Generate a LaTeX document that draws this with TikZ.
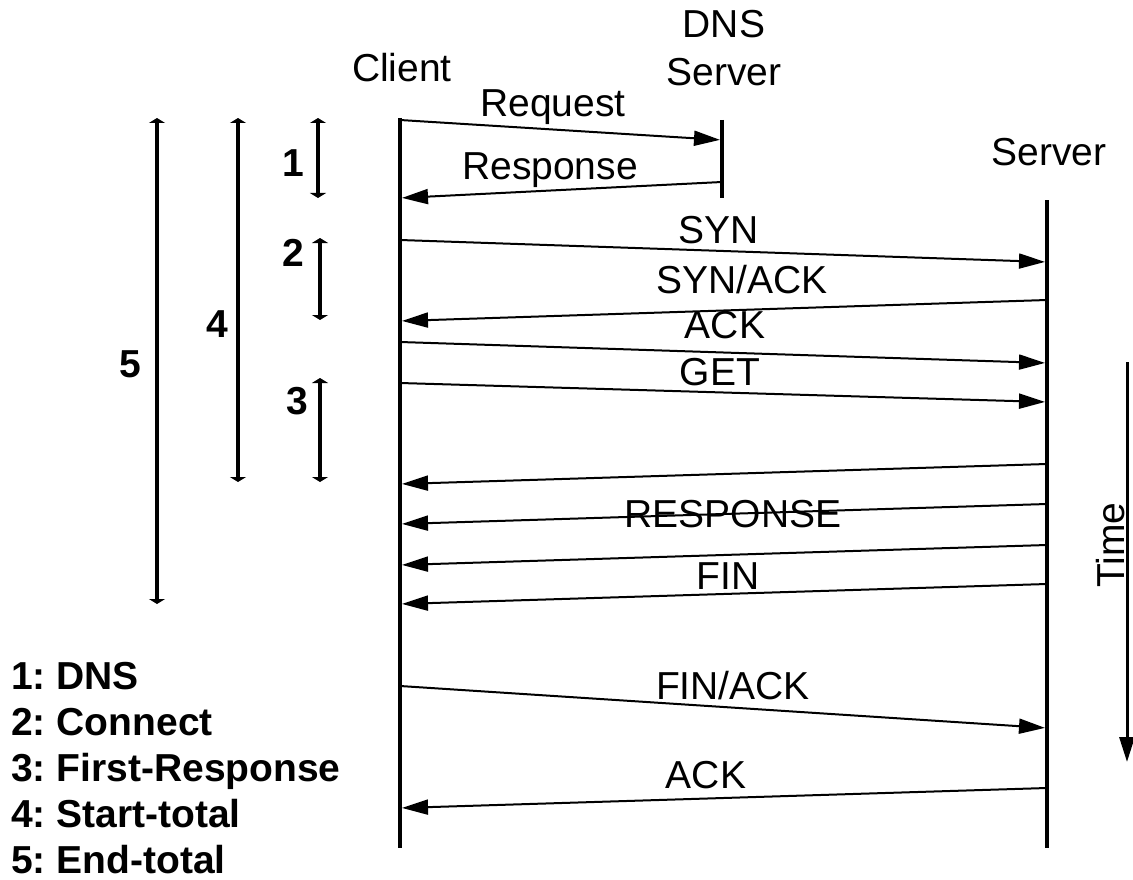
\documentclass[tikz,border=0pt]{standalone}
\usepackage{fontspec}
\setmainfont{Liberation Sans}
\usetikzlibrary{arrows.meta, positioning}

\begin{document}
\begin{tikzpicture}[x=1pt, y=-1pt,
      txt/.style={font=\fontsize{39}{48}\selectfont, inner sep=0pt, anchor=base},
      num/.style={txt, font=\fontsize{39}{48}\selectfont\bfseries},
      life/.style={line width=4pt},
      msg/.style={line width=2pt, -{Triangle[length=26pt, width=15pt]}, shorten >=2pt},
      span/.style={line width=3.5pt, {Triangle[length=5pt, width=16pt]}-{Triangle[length=5pt, width=16pt]}}]

  \useasboundingbox (0,0) rectangle (1133,880);

  % hosts
  \node[txt] (client) at (402,82) {Client};
  \node[txt, align=center] (dns) at (724,86) {DNS\\Server};
  \node[txt] (server) at (1049,166) {Server};

  % lifelines
  \coordinate (cTop) at (400,118); \coordinate (cBot) at (400,848);
  \coordinate (dTop) at (722,120); \coordinate (dBot) at (722,198);
  \coordinate (sTop) at (1047,200); \coordinate (sBot) at (1047,848);
  \draw[life] (cTop) -- (cBot);
  \draw[life] (dTop) -- (dBot);
  \draw[life] (sTop) -- (sBot);

  % name lookup
  \draw[msg] (cTop |- 0,120) -- (dTop |- 0,140);
  \draw[msg] (dTop |- 0,182) -- (cTop |- 0,198);
  \node[txt] (req) at (553,117) {Request};
  \node[txt] (resp) at (550,179) {Response};

  % handshake and request
  \draw[msg] (cTop |- 0,240) -- (sTop |- 0,262);
  \draw[msg] (sTop |- 0,300) -- (cTop |- 0,321);
  \draw[msg] (cTop |- 0,342) -- (sTop |- 0,363);
  \draw[msg] (cTop |- 0,383) -- (sTop |- 0,402);
  \node[txt] (syn) at (719,243) {SYN};
  \node[txt] (synack) at (742,293) {SYN/ACK};
  \node[txt] (ack) at (725,338) {ACK};
  \node[txt] (get) at (720,385) {GET};

  % reply and teardown
  \draw[msg] (sTop |- 0,464) -- (cTop |- 0,484);
  \draw[msg] (sTop |- 0,504) -- (cTop |- 0,524);
  \draw[msg] (sTop |- 0,545) -- (cTop |- 0,565);
  \draw[msg] (sTop |- 0,584) -- (cTop |- 0,604);
  \draw[msg] (cTop |- 0,686) -- (sTop |- 0,728);
  \draw[msg] (sTop |- 0,788) -- (cTop |- 0,808);
  \node[txt] (rsp) at (733,527) {RESPONSE};
  \node[txt] (fin) at (728,589) {FIN};
  \node[txt] (finack) at (733,699) {FIN/ACK};
  \node[txt] (lastack) at (706,788) {ACK};

  % time axis
  \coordinate (tTop) at (1127,362); \coordinate (tBot) at (1127,762);
  \draw[line width=3pt, -{Triangle[length=25pt, width=15pt]}] (tTop) -- (tBot);
  \node[txt, anchor=center, rotate=90] (time) at (1111,545) {Time};

  % measured intervals
  \foreach \x/\ya/\yb in {318/118/198, 320/238/320, 320/378/482, 238/118/482, 157/118/604}
    \draw[span] (\x,\ya) -- (\x,\yb);
  \node[num] (i1) at (293,177) {1};
  \node[num] (i2) at (293,266) {2};
  \node[num] (i3) at (297,414) {3};
  \node[num] (i4) at (217,337) {4};
  \node[num] (i5) at (130,377) {5};

  % key
  \foreach \t [count=\i] in {DNS, Connect, First-Response, Start-total, End-total}
    \node[num, anchor=base west] (key\i) at (11,{689+46*(\i-1)}) {\i:~\t};
\end{tikzpicture}
\end{document}
